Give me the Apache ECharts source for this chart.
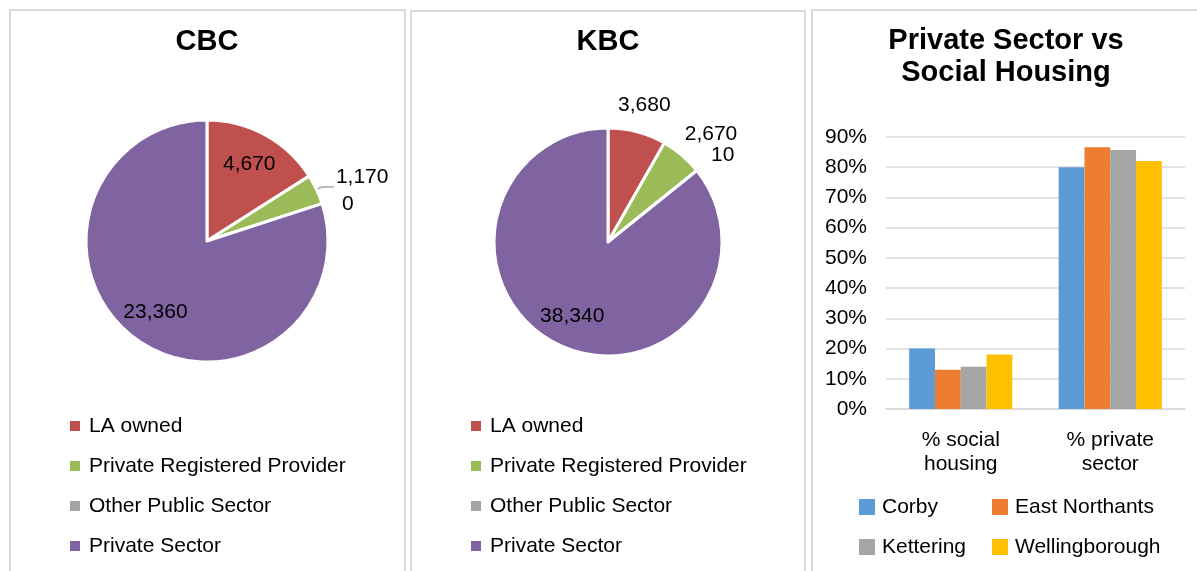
<!DOCTYPE html>
<html>
<head>
<meta charset="utf-8">
<style>
  html, body { margin: 0; padding: 0; background: #fff; }
  #chart { width: 1197px; height: 571px; }
</style>
<script src="https://cdn.jsdelivr.net/npm/echarts@6/dist/echarts.min.js"></script>
</head>
<body>
<div id="chart"></div>
<script>
// tenure split per council
var tenures = ['LA owned', 'Private Registered Provider', 'Other Public Sector', 'Private Sector'];
var tenureColors = ['#C0504D', '#9BBB59', '#A5A5A5', '#8064A2'];
var cbcValues = [4670, 1170, 0, 23360];
var kbcValues = [3680, 2670, 10, 38340];

// private vs social housing share (%)
var housingTypes = ['% social\nhousing', '% private\nsector'];
var districts = ['Corby', 'East Northants', 'Kettering', 'Wellingborough'];
var districtColors = ['#5B9BD5', '#ED7D31', '#A5A5A5', '#FFC000'];
var corby = [20, 80];
var eastNorthants = [13, 86.6];
var kettering = [14, 85.7];
var wellingborough = [18, 82.1];
var barValues = [corby, eastNorthants, kettering, wellingborough];

var FONT = '"Liberation Sans", Arial, sans-serif';

function fmt(v) {
  return v.toLocaleString('en-US');
}

// base pie, no labels except the ones with a leader line
function basePie(values, center, r, lineIdx, layoutFn) {
  return {
    type: 'pie',
    center: center,
    radius: r,
    startAngle: 90,
    avoidLabelOverlap: false,
    emphasis: { disabled: true },
    itemStyle: { borderColor: '#fff', borderWidth: 3 },
    label: { show: false },
    labelLine: { show: false },
    labelLayout: layoutFn,
    data: values.map(function (v, i) {
      var d = { name: tenures[i], value: v, itemStyle: { color: tenureColors[i] } };
      if (lineIdx.indexOf(i) >= 0) {
        d.label = {
          show: true, position: 'outside', formatter: function (p) { return fmt(p.value); },
          color: '#000', fontSize: 21, fontFamily: FONT, distanceToLabelLine: 2
        };
        d.labelLine = { show: true, length: 6, length2: 12, lineStyle: { color: '#A6A6A6', width: 1.5 } };
      }
      return d;
    })
  };
}

// transparent ring used only to place labels (Excel-like positions)
function labelRing(values, center, radius, showIdx, layoutFn) {
  return {
    type: 'pie',
    center: center,
    radius: radius,
    startAngle: 90,
    silent: true,
    legendHoverLink: false,
    avoidLabelOverlap: false,
    emphasis: { disabled: true },
    itemStyle: { color: 'rgba(0,0,0,0)', borderWidth: 0 },
    label: {
      show: true, position: 'inside', color: '#000', fontSize: 21, fontFamily: FONT,
      formatter: function (p) { return fmt(p.value); }
    },
    labelLine: { show: false },
    labelLayout: layoutFn,
    data: values.map(function (v, i) {
      return { name: tenures[i], value: v, label: { show: showIdx.indexOf(i) >= 0 } };
    })
  };
}

function districtLegend(i, left, top) {
  return {
    data: [districts[i]], left: left, top: top, padding: 0,
    itemWidth: 16, itemHeight: 16, icon: 'rect', selectedMode: false,
    textStyle: { color: '#000', fontSize: 21, fontFamily: FONT, lineHeight: 40, padding: [0, 0, 0, 2] }
  };
}

function tenureLegend(left) {
  return {
    data: tenures, orient: 'vertical', left: left, top: 406, padding: 0, itemGap: 0,
    itemWidth: 12, itemHeight: 12, icon: 'rect', selectedMode: false,
    textStyle: { color: '#000', fontSize: 21, fontFamily: FONT, lineHeight: 40, padding: [0, 0, 0, 3] }
  };
}

var cbcC = [207, 241], cbcR = 121;
var kbcC = [608, 242], kbcR = 114;

var chart = echarts.init(document.getElementById('chart'));
chart.setOption({
  animation: false,
  textStyle: { fontFamily: FONT },
  graphic: [
    { type: 'rect', silent: true, shape: { x: 10, y: 10, width: 395, height: 600 }, style: { fill: 'none', stroke: '#D9D9D9', lineWidth: 2 } },
    { type: 'rect', silent: true, shape: { x: 411, y: 11, width: 394, height: 600 }, style: { fill: 'none', stroke: '#D9D9D9', lineWidth: 2 } },
    { type: 'rect', silent: true, shape: { x: 812, y: 10, width: 400, height: 600 }, style: { fill: 'none', stroke: '#D9D9D9', lineWidth: 2 } },
    { type: 'text', silent: true, x: 207, y: 42, style: { text: 'CBC', font: 'bold 29px ' + FONT, fill: '#000', align: 'center', verticalAlign: 'middle' } },
    { type: 'text', silent: true, x: 608, y: 42, style: { text: 'KBC', font: 'bold 29px ' + FONT, fill: '#000', align: 'center', verticalAlign: 'middle' } },
    { type: 'text', silent: true, x: 1006, y: 41, style: { text: 'Private Sector vs', font: 'bold 29px ' + FONT, fill: '#000', align: 'center', verticalAlign: 'middle' } },
    { type: 'text', silent: true, x: 1006, y: 73, style: { text: 'Social Housing', font: 'bold 29px ' + FONT, fill: '#000', align: 'center', verticalAlign: 'middle' } }
  ],
  legend: [
    tenureLegend(68),
    tenureLegend(469),
    districtLegend(0, 859, 487),
    districtLegend(1, 992, 487),
    districtLegend(2, 859, 527),
    districtLegend(3, 992, 527)
  ],
  grid: { left: 886, right: 12, top: 137, bottom: 162 },
  xAxis: {
    type: 'category',
    data: housingTypes,
    axisTick: { show: false },
    axisLine: { lineStyle: { color: '#D9D9D9', width: 1.5 } },
    axisLabel: { color: '#000', fontSize: 21, fontFamily: FONT, lineHeight: 24, margin: 19, interval: 0 }
  },
  yAxis: {
    type: 'value',
    min: 0,
    max: 90,
    interval: 10,
    axisLine: { show: false },
    axisTick: { show: false },
    splitLine: { lineStyle: { color: '#D9D9D9', width: 1.5 } },
    axisLabel: { formatter: '{value}%', color: '#000', fontSize: 21, fontFamily: FONT, margin: 19 }
  },
  series: [
    basePie(cbcValues, cbcC, cbcR, [1], function (p) {
      return p.dataIndex === 1 ? { dy: -10 } : {};
    }),
    basePie(kbcValues, kbcC, kbcR, []),
    labelRing(cbcValues, cbcC, [cbcR * 0.4, cbcR], [0, 3]),
    labelRing(kbcValues, kbcC, [kbcR * 0.4, kbcR], [3]),
    labelRing(cbcValues, cbcC, [cbcR, cbcR + 44], [2], function (p) {
      return p.dataIndex === 2 ? { dx: 2, dy: 8 } : {};
    }),
    labelRing(kbcValues, kbcC, [kbcR, kbcR + 50], [0, 1, 2], function (p) {
      if (p.dataIndex === 1) return { dx: 11 };
      if (p.dataIndex === 2) return { dx: 4, dy: 2 };
      return {};
    })
  ].concat(districts.map(function (d, i) {
    return {
      type: 'bar',
      name: d,
      data: barValues[i],
      barGap: '0%',
      barCategoryGap: '31%',
      itemStyle: { color: districtColors[i] },
      emphasis: { disabled: true }
    };
  }))
});
</script>
</body>
</html>
